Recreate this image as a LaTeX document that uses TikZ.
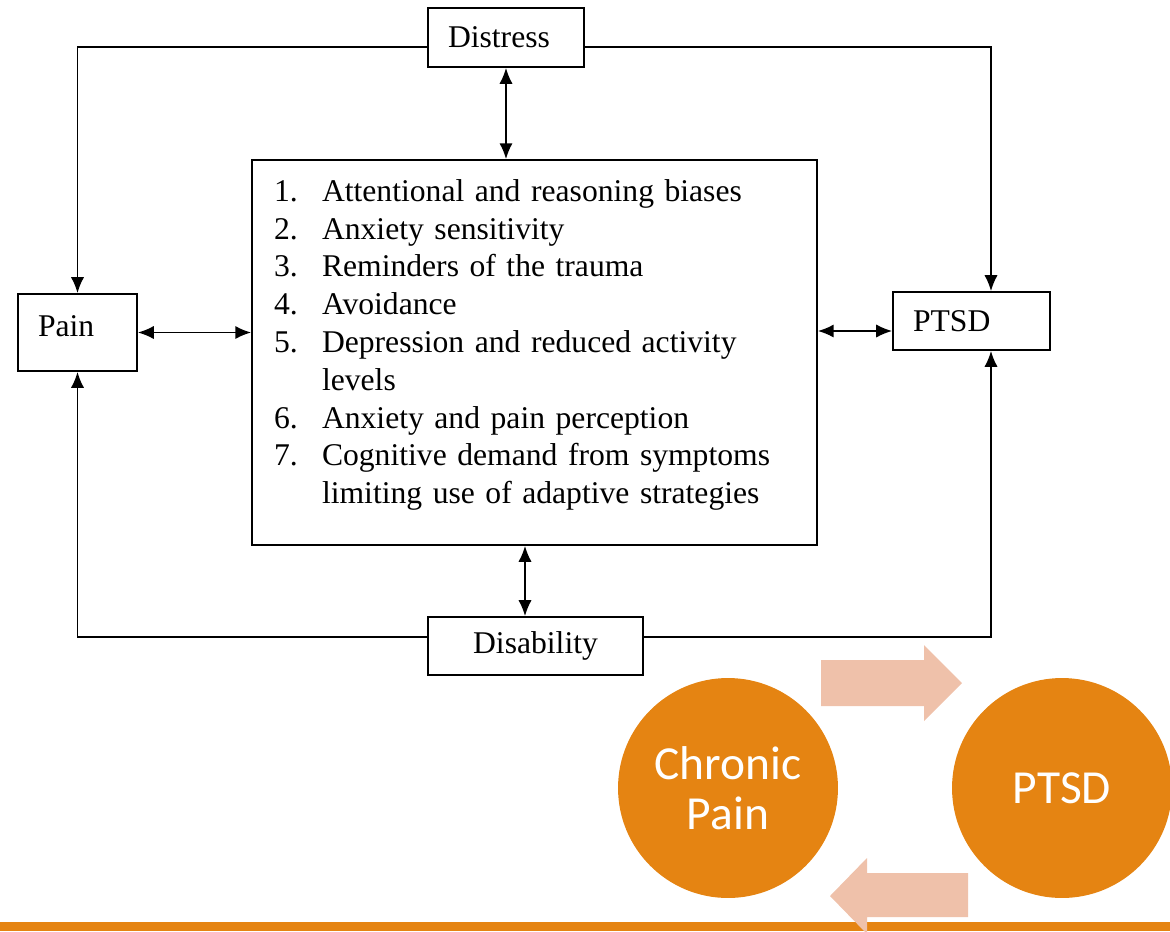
\documentclass[tikz,border=0pt]{standalone}
\usepackage{fontspec}
\setmainfont{Liberation Serif}
\newfontfamily\calibrifont{Carlito}
\usetikzlibrary{arrows,arrows.meta,calc}
\definecolor{ce58412}{RGB}{229,132,18}
\definecolor{cf0c1aa}{RGB}{239,193,170}
\tikzset{every path/.style={>={Latex[length=9pt,width=7.5pt]},line width=0.9pt,color=black}}

\begin{document}
\begin{tikzpicture}[x=0.02cm,y=-0.02cm]
\useasboundingbox (0,0) rectangle (1170,931);

\begin{scope}[every node/.style={draw,rectangle,line width=1.1pt,inner xsep=0.4cm,inner ysep=0pt,
align=left,font=\fontsize{18}{21.5}\selectfont}]
\node[text width=2.32cm,minimum height=1.18cm] (distress) at (506,37.5) {Distress};
\node[text width=1.58cm,minimum height=1.54cm] (pain) at (77.5,332.5) {Pain\rule[-0.25cm]{0pt}{0pt}};
\node[text width=2.34cm,minimum height=1.16cm] (ptsd) at (971.5,321) {PTSD};
\node[text width=3.5cm,minimum height=1.16cm,align=center] (disability) at (535.5,646) {Disability};
\node[text width=10.42cm,inner xsep=0.44cm,minimum height=7.7cm] (list) at (534.5,352.5) {%
\makebox[0.96cm][l]{1.}Attentional and reasoning biases\\
\makebox[0.96cm][l]{2.}Anxiety sensitivity\\
\makebox[0.96cm][l]{3.}Reminders of the trauma\\
\makebox[0.96cm][l]{4.}Avoidance\\
\makebox[0.96cm][l]{5.}Depression and reduced activity\\
\hspace*{0.96cm}levels\\
\makebox[0.96cm][l]{6.}Anxiety and pain perception\\
\makebox[0.96cm][l]{7.}Cognitive demand from symptoms\\
\hspace*{0.96cm}limiting use of adaptive strategies\rule[-0.44cm]{0pt}{0pt}};
\end{scope}

\begin{scope}
\tikzset{every path/.style={draw,>={Latex[length=9pt,width=7.5pt]},line width=0.9pt,color=black}}
\coordinate (tl) at (77.5,47);
\coordinate (tr) at (991,47);
\coordinate (bl) at (77.5,637);
\coordinate (br) at (991,637);
\coordinate (pm) at ($(ptsd.west)+(0,10)$);
\coordinate (dm) at ($(disability.north)+(-10.5,0)$);
\path[->] (distress.west |- tl) -- (tl) -- (pain.north);
\path[->] (distress.east |- tr) -- (tr) -- (tr |- ptsd.north);
\path[->] (disability.west |- bl) -- (bl) -- (pain.south);
\path[->] (disability.east |- br) -- (br) -- (br |- ptsd.south);
\path[<->] (distress.south) -- (distress.south |- list.north);
\path[<->] (pain.east) -- (pain.east -| list.west);
\path[<->] (pm -| list.east) -- (pm);
\path[<->] (dm |- list.south) -- (dm);
\end{scope}

% feedback loop
\fill[cf0c1aa] (821,660) -- (924,660) -- (924,645) -- (962,683) -- (924,721) -- (924,706) -- (821,706) -- cycle;
\begin{scope}[every node/.style={circle,fill=ce58412,text=white,minimum size=4.4cm,inner sep=0pt,
align=center,font=\calibrifont\fontsize{27}{28.5}\selectfont}]
\node (chronic) at (728,788) {Chronic\\Pain};
\node (ptsdc) at (1062,788) {PTSD};
\end{scope}
\fill[ce58412] (0,922) rectangle (1170,931);
\fill[cf0c1aa] (968,873) -- (867,873) -- (867,858) -- (830,896) -- (867,934) -- (867,917) -- (968,917) -- cycle;

\end{tikzpicture}
\end{document}
